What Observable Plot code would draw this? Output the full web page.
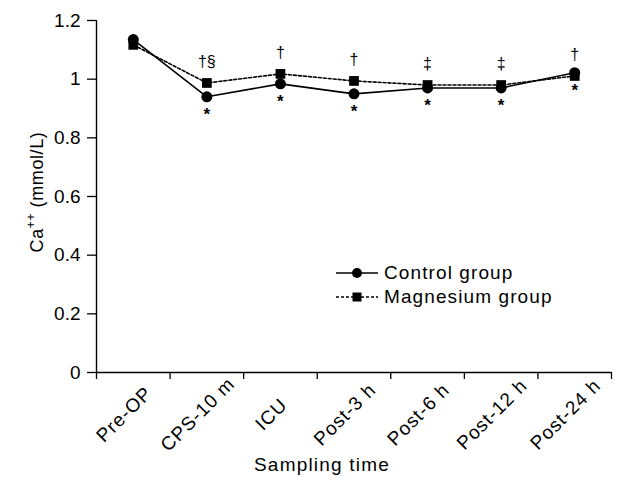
<!DOCTYPE html>
<html>
<head>
<meta charset="utf-8">
<script src="https://cdn.jsdelivr.net/npm/d3@7"></script>
<script src="https://cdn.jsdelivr.net/npm/@observablehq/plot@0.6"></script>
<style>
  body { margin: 0; background: #fff; }
  #wrap { position: relative; width: 617px; height: 491px; font-family: "Liberation Sans", Arial, sans-serif; }
  #legend { position: absolute; left: 336px; top: 261px; font-size: 19px; letter-spacing: 1.1px; color: #000; line-height: 24px; }
  #legend div { display: flex; align-items: center; }
  #legend svg { margin-right: 6px; }
</style>
</head>
<body>
<div id="wrap"></div>
<script>
const categories = ["Pre-OP", "CPS-10 m", "ICU", "Post-3 h", "Post-6 h", "Post-12 h", "Post-24 h"];
const controlValues = [1.135, 0.94, 0.984, 0.95, 0.97, 0.97, 1.022];
const magnesiumValues = [1.117, 0.987, 1.018, 0.994, 0.98, 0.98, 1.011];
const marksAbove = ["", "†§", "†", "†", "‡", "‡", "†"];
const marksBelow = ["", "*", "*", "*", "*", "*", "*"];
const yTicks = [0, 0.2, 0.4, 0.6, 0.8, 1, 1.2];
const yTickLabels = ["0", "0.2", "0.4", "0.6", "0.8", "1", "1.2"];

const control = categories.map((c, i) => ({pos: i + 0.5, value: controlValues[i], note: marksBelow[i]}));
const magnesium = categories.map((c, i) => ({pos: i + 0.5, value: magnesiumValues[i], note: marksAbove[i]}));
const catLabels = categories.map((c, i) => ({pos: i + 0.5, label: c}));
const boundaries = d3.range(categories.length + 1);

const plot = Plot.plot({
  width: 617,
  height: 491,
  marginLeft: 96,
  marginRight: 6,
  marginTop: 20,
  marginBottom: 119,
  style: {fontFamily: "Liberation Sans, Arial, sans-serif", fontSize: "18px", color: "#000", background: "#fff"},
  x: {type: "linear", domain: [0, categories.length]},
  y: {domain: [0, 1.2]},
  marks: [
    Plot.ruleX([0], {y1: 0, y2: 1.2, stroke: "#000", strokeWidth: 1.4}),
    Plot.ruleY([0], {stroke: "#000", strokeWidth: 1.4}),
    Plot.axisY({ticks: yTicks, tickFormat: (d) => yTickLabels[yTicks.indexOf(d)], tickSize: 9, tickPadding: 7, label: null, stroke: "#000", strokeWidth: 1.3, fontSize: 19}),
    Plot.axisX({ticks: boundaries, tickFormat: () => "", tickSize: 7, label: null, stroke: "#000", strokeWidth: 1.3}),
    Plot.text(catLabels, {x: "pos", text: "label", frameAnchor: "bottom", dx: -9, dy: 42, rotate: -45, textAnchor: "middle", lineAnchor: "middle", fontSize: 19, fill: "#000", style: "letter-spacing:1px"}),
    Plot.line(magnesium, {x: "pos", y: "value", stroke: "#000", strokeWidth: 1.6, strokeDasharray: "3,2"}),
    Plot.line(control, {x: "pos", y: "value", stroke: "#000", strokeWidth: 1.6}),
    Plot.dot(magnesium, {x: "pos", y: "value", symbol: "square", r: 5.5, fill: "#000"}),
    Plot.dot(control, {x: "pos", y: "value", symbol: "circle", r: 5.5, fill: "#000"}),
    Plot.text(magnesium, {x: "pos", y: "value", text: "note", dy: -21, fontSize: 16, fill: "#000"}),
    Plot.text(control, {x: "pos", y: "value", text: "note", dy: 18, fontSize: 17, fontWeight: "bold", fill: "#000"})
  ]
});

const svg = d3.select(plot);
svg.selectAll("text").filter(function () { return this.closest("g") && this.textContent && /^[A-Z]/.test(this.textContent); })
  .attr("letter-spacing", 1);

const yl = svg.append("text")
  .attr("transform", "translate(43,192) rotate(-90)")
  .attr("text-anchor", "middle")
  .attr("font-size", 18)
  .attr("letter-spacing", 0.6)
  .attr("fill", "#000");
yl.append("tspan").text("Ca");
yl.append("tspan").attr("dy", -8).attr("font-size", 12).text("++");
yl.append("tspan").attr("dy", 8).text(" (mmol/L)");

svg.append("text")
  .attr("x", 322)
  .attr("y", 471)
  .attr("text-anchor", "middle")
  .attr("font-size", 19)
  .attr("letter-spacing", 1.2)
  .attr("fill", "#000")
  .text("Sampling time");

const wrap = document.getElementById("wrap");
wrap.appendChild(plot);

const legend = document.createElement("div");
legend.id = "legend";
legend.innerHTML = `
<div><svg width="42" height="12"><line x1="0" y1="6" x2="42" y2="6" stroke="#000" stroke-width="1.6"/><circle cx="21" cy="6" r="5" fill="#000"/></svg>Control group</div>
<div><svg width="42" height="12"><line x1="0" y1="6" x2="42" y2="6" stroke="#000" stroke-width="1.6" stroke-dasharray="3,2"/><rect x="16.5" y="1.5" width="9" height="9" fill="#000"/></svg>Magnesium group</div>`;
wrap.appendChild(legend);
</script>
</body>
</html>
